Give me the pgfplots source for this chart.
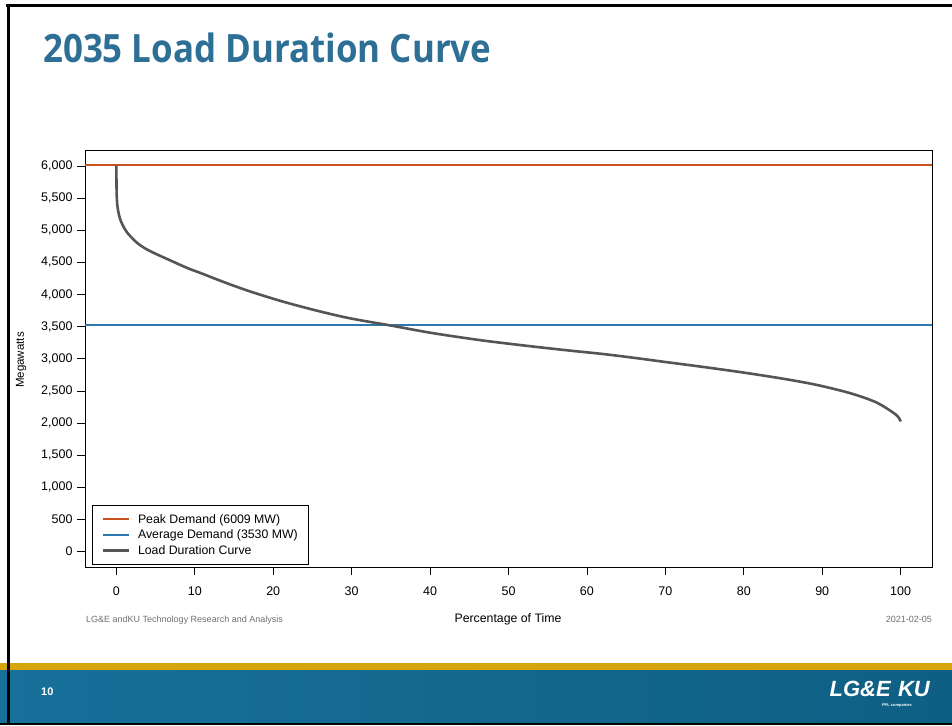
\documentclass[border=0pt]{standalone}
\usepackage{fontspec}
\setmainfont{Liberation Sans}
\newfontfamily\titlefont[FakeStretch=0.895]{Open Sans}
\usepackage{pgfplots}
\pgfplotsset{compat=1.18}

\definecolor{peakred}{HTML}{C8511F}
\definecolor{avgblue}{HTML}{2B79AE}
\definecolor{ldcgray}{HTML}{555555}
\definecolor{titleblue}{HTML}{2E6F96}
\definecolor{footgold}{HTML}{D6A40C}
\definecolor{footblueL}{HTML}{17709A}
\definecolor{footblueR}{HTML}{0F5F84}
\definecolor{notegray}{HTML}{707070}

% load duration curve, MW sorted from highest to lowest hour
\pgfplotstableread{
pct   mw
0     6009
0.01  5800
0.03  5600
0.08  5450
0.17  5343
0.35  5230
0.6   5135
1     5035
1.44  4954
2     4880
2.7   4798
3.7   4715
4.85  4643
7     4524
9.1   4410
10.8  4332
12.5  4250
15    4135
17.5  4030
21.2  3891
25.5  3751
29.7  3632
35.2  3513
40.3  3400
46.7  3285
53.1  3191
58    3125
62    3075
66    3015
70    2950
75    2870
80    2785
85    2690
89.2  2596
93.5  2467
96.9  2321
99.4  2130
100   2025
}\ldc

\begin{document}
\begin{tikzpicture}[x=1pt,y=1pt]
\path[use as bounding box] (0,0) rectangle (952,725);
\fill[white] (0,0) rectangle (952,725);

% footer band
\fill[black] (0,0) rectangle (952,3);
\shade[left color=footblueL, right color=footblueR] (0,3) rectangle (952,55);
\fill[footgold] (0,55) rectangle (952,62);
\node[text=white, font=\bfseries\fontsize{11}{13}\selectfont, anchor=west, inner sep=0] at (41,33) {10};
\node[text=white, font=\bfseries\itshape\fontsize{22}{24}\selectfont, anchor=east, inner sep=0] at (930,36) {LG\&E\,\,KU};
\node[text=white, font=\bfseries\fontsize{4}{5}\selectfont, anchor=east, inner sep=0] at (912,20) {PPL companies};

% slide frame
\draw[black, line width=3pt] (5.5,725-5.5) -- (952,725-5.5);
\draw[black, line width=3pt] (8,725-5.5) -- (8,0);

% title
\node[anchor=base west, inner sep=0, text=titleblue, font=\titlefont\bfseries\fontsize{39}{44}\selectfont] at (43,662) {2035 Load Duration Curve};

% notes under the plot
\node[anchor=base west, inner sep=0, text=notegray, font=\fontsize{9}{11}\selectfont] at (86,102) {LG\&E andKU Technology Research and Analysis};
\node[anchor=base east, inner sep=0, text=notegray, font=\fontsize{9}{11}\selectfont] at (932,102) {2021-02-05};
\node[anchor=base, inner sep=0, font=\fontsize{12.3}{14}\selectfont] at (508,102) {Percentage of Time};
\node[rotate=90, inner sep=0, font=\fontsize{11.5}{13}\selectfont] at (21,365) {Megawatts};

\begin{axis}[
  at={(85pt,158pt)}, anchor=south west,
  scale only axis, width=847pt, height=417pt,
  xmin=-4, xmax=104, ymin=-240.36, ymax=6249.36,
  xtick={0,10,...,100}, ytick={0,500,...,6000},
  xtick pos=bottom, ytick pos=left,
  tick align=outside, major tick length=8pt,
  tick style={black, line width=0.8pt},
  axis line style={black, line width=0.8pt},
  /pgf/number format/assume math mode=true,
  /pgf/number format/1000 sep={,},
  ticklabel style={font=\fontsize{12.5}{14}\selectfont},
  yticklabel style={anchor=east, xshift=-1pt},
  xticklabel style={anchor=base, yshift=-20pt},
  legend cell align=left,
  legend style={at={(0.0083,0.005)}, anchor=south west, draw=black, line width=0.8pt,
    font=\fontsize{12.3}{14}\selectfont, inner xsep=9pt, inner ysep=7pt,
    row sep=1pt, column sep=6pt},
  legend image code/.code={\draw[#1] (0pt,0pt) -- (26pt,0pt);},
]
\addplot[peakred, line width=2pt] coordinates {(-4,6009) (104,6009)};
\addlegendentry{Peak Demand (6009 MW)}
\addplot[avgblue, line width=2pt] coordinates {(-4,3530) (104,3530)};
\addlegendentry{Average Demand (3530 MW)}
\addplot[ldcgray, line width=2.6pt, smooth] table[x=pct, y=mw] {\ldc};
\addlegendentry{Load Duration Curve}
\end{axis}
\end{tikzpicture}
\end{document}
